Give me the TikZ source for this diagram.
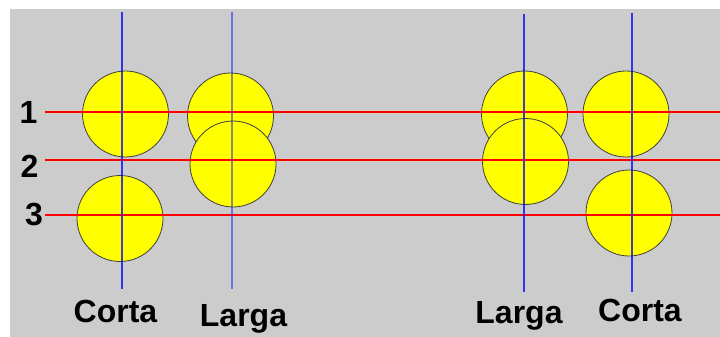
\documentclass[tikz,border=0pt]{standalone}
\usepackage{fontspec}
\setmainfont{Liberation Sans}
\definecolor{panelgray}{HTML}{CCCCCC}
\definecolor{ballyellow}{HTML}{FFFF00}
\definecolor{rowred}{HTML}{FF0000}
\definecolor{axisblue}{HTML}{0000FF}
\tikzset{
  ball/.style={draw=black!75, line width=0.8pt, fill=ballyellow, circle, minimum size=86pt, inner sep=0pt},
  rowline/.style={rowred, line width=2.6pt},
  axisline/.style={axisblue, line width=2.8pt, opacity=0.75},
  paleaxis/.style={axisblue, line width=2.8pt, opacity=0.45},
  lbl/.style={font=\fontsize{32}{38}\selectfont\bfseries, anchor=base, inner sep=0pt}
}
\begin{document}
\begin{tikzpicture}[x=1pt, y=-1pt]
\useasboundingbox (0,0) rectangle (720,337);
\fill[panelgray] (10,9) rectangle (720,337);
% balls
\node[ball] (lc1) at (125.5,114) {};
\node[ball] (lc3) at (120,218.5) {};
\node[ball] (ll1) at (230.5,116) {};
\node[ball] (ll2) at (233,164) {};
\node[ball] (rl1) at (524.5,114) {};
\node[ball] (rl2) at (525.5,161.5) {};
\node[ball] (rc1) at (626,114) {};
\node[ball] (rc3) at (629,213) {};
% row labels and lines
\node[lbl] (n1) at (28.5,123) {1};
\node[lbl] (n2) at (29.5,177) {2};
\node[lbl] (n3) at (34,225) {3};
\coordinate (r1a) at (45,112);  \coordinate (r1b) at (720,112);
\coordinate (r2a) at (45,160);  \coordinate (r2b) at (720,160);
\coordinate (r3a) at (45,215);  \coordinate (r3b) at (720,215);
\draw[rowline] (r1a) -- (r1b);
\draw[rowline] (r2a) -- (r2b);
\draw[rowline] (r3a) -- (r3b);
% axes
\coordinate (lct) at (122,12);  \coordinate (lcb) at (122,289);
\coordinate (llt) at (232,12);  \coordinate (llb) at (232,289);
\coordinate (rlt) at (524,14);  \coordinate (rlb) at (524,292);
\coordinate (rct) at (632,13);  \coordinate (rcb) at (632,292);
\draw[axisline] (lct) -- (lcb);
\draw[paleaxis] (llt) -- (llb);
\draw[axisline] (rlt) -- (rlb);
\draw[axisline] (rct) -- (rcb);
% names
\node[lbl] (lcname) at (115.5,322) {Corta};
\node[lbl] (llname) at (243.5,326) {Larga};
\node[lbl] (rlname) at (519,323) {Larga};
\node[lbl] (rcname) at (640,321) {Corta};
\end{tikzpicture}
\end{document}
